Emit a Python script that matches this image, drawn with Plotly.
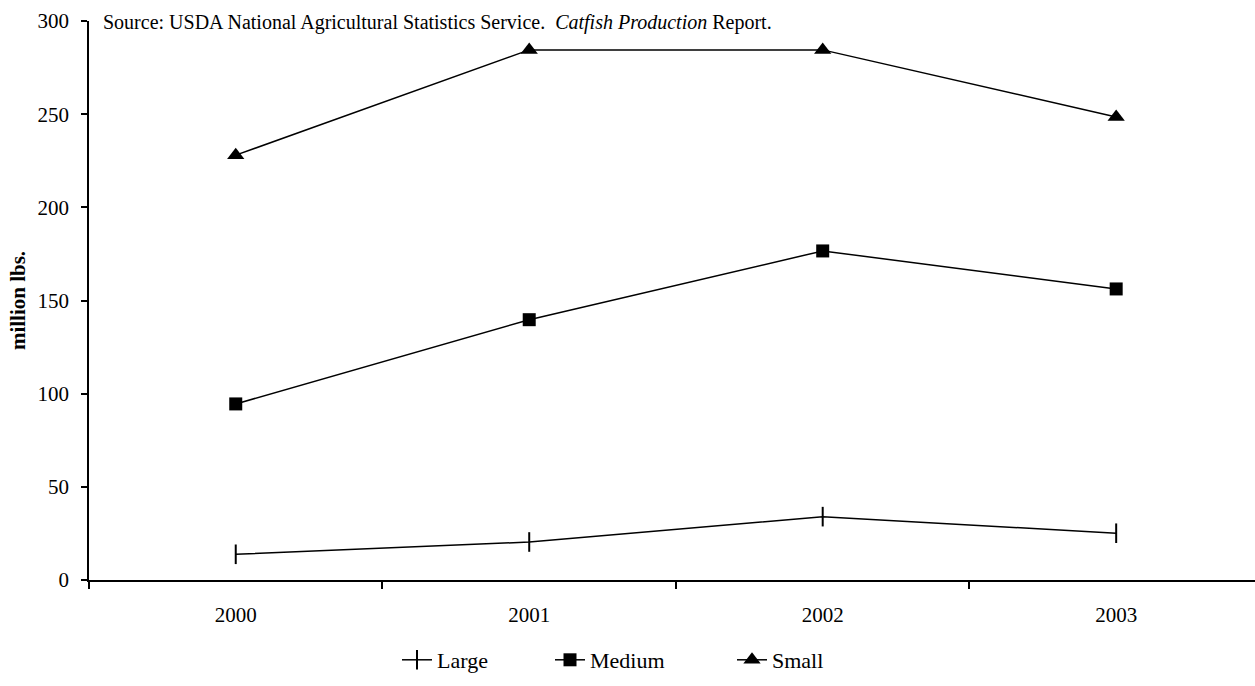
import plotly.graph_objects as go

years = ["2000", "2001", "2002", "2003"]
large = [13.8, 20.4, 34.0, 25.1]
medium = [94.5, 139.7, 176.6, 156.2]
small = [228.0, 284.5, 284.5, 248.5]
y_ticks = [0, 50, 100, 150, 200, 250, 300]

FONT = "Liberation Serif, Times New Roman, serif"
W, H = 1255, 686
L, R, T, B = 89, 0, 21, 106
PW = W - L - R
PH = H - T - B

def px_x(px):
    return (px - L) / PW

def px_y(py):
    return (H - B - py) / PH

fig = go.Figure()
fig.add_trace(go.Scatter(
    x=years, y=large, name="Large", mode="lines+markers",
    line=dict(color="black", width=1.5),
    marker=dict(symbol="line-ns", size=14, color="black", line=dict(color="black", width=2)),
    legend="legend", showlegend=True,
))
fig.add_trace(go.Scatter(
    x=years, y=medium, name="Medium", mode="lines+markers",
    line=dict(color="black", width=1.5),
    marker=dict(symbol="square", size=13, color="black"),
    legend="legend2", showlegend=True,
))
fig.add_trace(go.Scatter(
    x=years, y=small, name="Small", mode="lines+markers",
    line=dict(color="black", width=1.5),
    marker=dict(symbol="triangle-up", size=15, color="black"),
    legend="legend3", showlegend=True,
))

leg_common = dict(orientation="h", yanchor="middle", xanchor="left",
                  font=dict(family=FONT, size=22, color="black"),
                  bgcolor="rgba(0,0,0,0)")

fig.update_layout(
    width=W, height=H,
    showlegend=True,
    margin=dict(l=L, r=R, t=T, b=B, autoexpand=False),
    paper_bgcolor="white", plot_bgcolor="white",
    font=dict(family=FONT, size=21, color="black"),
    legend=dict(x=px_x(397), y=px_y(660), **leg_common),
    legend2=dict(x=px_x(550), y=px_y(660), **leg_common),
    legend3=dict(x=px_x(732), y=px_y(660), **leg_common),
    xaxis=dict(
        type="category", range=[-0.5, 3.473],
        showline=True, linecolor="black", linewidth=1.5,
        ticks="outside", ticklen=7, tickcolor="black", tickwidth=1.5,
        tickson="boundaries", showgrid=False, zeroline=False,
        tickfont=dict(family=FONT, size=21, color="black"),
        ticklabelstandoff=15,
    ),
    yaxis=dict(
        range=[0, 300], tickvals=y_ticks,
        showline=True, linecolor="black", linewidth=1.5,
        ticks="outside", ticklen=6, tickcolor="black", tickwidth=1.5,
        showgrid=False, zeroline=False,
        tickfont=dict(family=FONT, size=21, color="black"),
        ticklabelstandoff=8,
        title=dict(text="<b>million lbs.</b>", standoff=6,
                   font=dict(family=FONT, size=21, color="black")),
    ),
    annotations=[dict(
        text="Source: USDA National Agricultural Statistics Service.&nbsp; <i>Catfish Production</i> Report.",
        xref="paper", yref="paper", x=px_x(101), y=px_y(22),
        xanchor="left", yanchor="middle", showarrow=False,
        font=dict(family=FONT, size=20, color="black"),
    )],
)

fig.write_html("out.html")
